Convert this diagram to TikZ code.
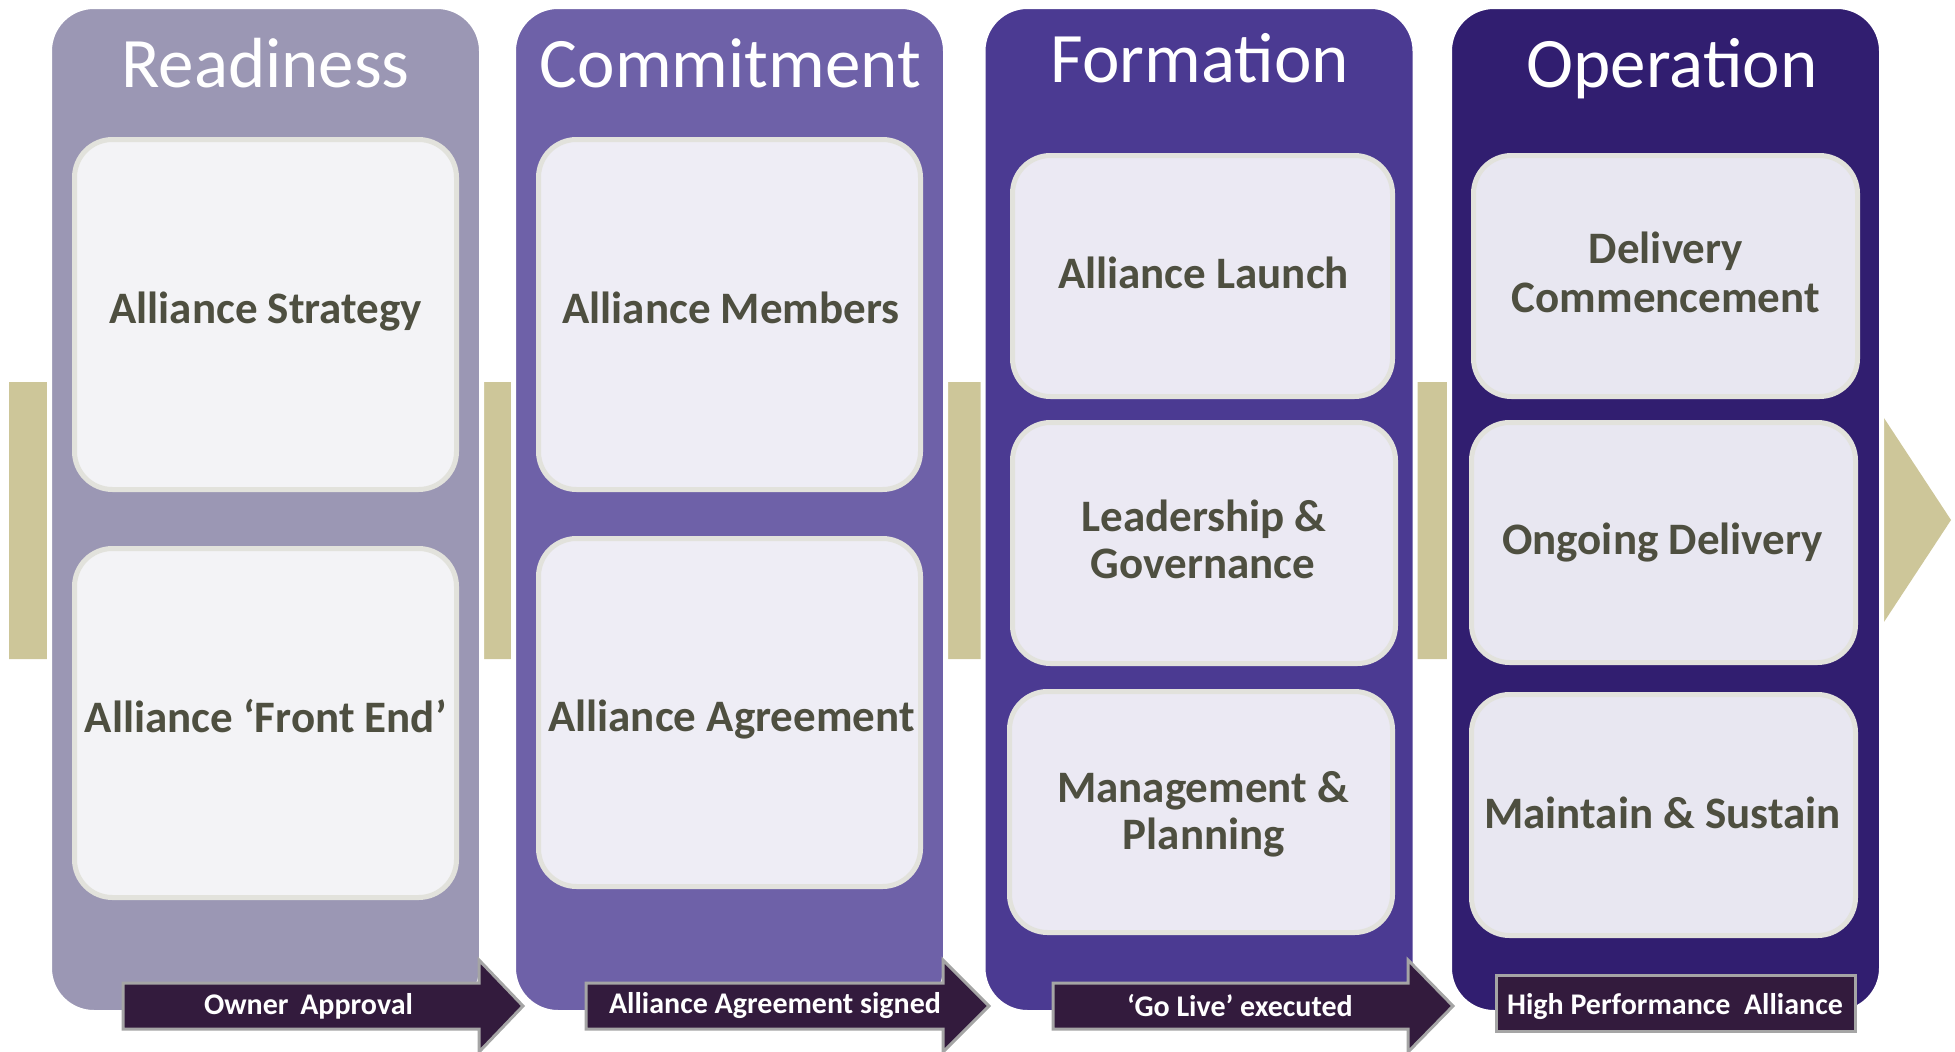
\documentclass[tikz,border=0pt]{standalone}
\usepackage{fontspec}
\setmainfont{Carlito}
\definecolor{colA}{HTML}{9B97B4}
\definecolor{colB}{HTML}{6E61A8}
\definecolor{colC}{HTML}{4B3A92}
\definecolor{colD}{HTML}{311E70}
\definecolor{tanband}{HTML}{CDC699}
\definecolor{cardA}{HTML}{F3F3F6}
\definecolor{cardB}{HTML}{EEEDF5}
\definecolor{cardC}{HTML}{EBE9F3}
\definecolor{cardD}{HTML}{E8E7F1}
\definecolor{cardline}{HTML}{E2E2DC}
\definecolor{cardtext}{HTML}{4E4F40}
\definecolor{flagfill}{HTML}{331B3D}
\definecolor{flagline}{HTML}{A5A5A5}
\begin{document}
\begin{tikzpicture}[x=1pt,y=-1pt,
  column/.style={rectangle, rounded corners=44.5pt, draw=white, line width=5pt, inner sep=0pt, outer sep=0pt, minimum width=432pt, minimum height=1006pt},
  card/.style={rectangle, rounded corners=38pt, draw=cardline, line width=5pt, inner sep=0pt, outer sep=0pt},
  cardlabel/.style={text=cardtext, font=\fontsize{45}{48}\selectfont\bfseries, anchor=base, inner sep=0pt},
  title/.style={text=white, font=\fontsize{71}{80}\selectfont, anchor=base, inner sep=0pt},
  flag/.style={fill=flagfill, draw=flagline, line width=3pt, line join=miter},
  flagtext/.style={text=white, font=\fontsize{30}{32}\selectfont\bfseries, inner sep=0pt}]
\useasboundingbox (0,0) rectangle (1955,1052);
% background band arrow
\fill[tanband] (9,382) -- (1836,382) -- (1836,345) -- (1951,520) -- (1836,695) -- (1836,659) -- (9,659) -- cycle;
% columns
\node[column, fill=colA] (colR) at (265.5,509.5) {};
\node[column, fill=colB] (colC) at (729.5,509.5) {};
\node[column, fill=colC] (colF) at (1199,509.5) {};
\node[column, fill=colD] (colO) at (1665.5,509.5) {};
% titles
\node[title] (tR) at (265.5,87) {Readiness};
\node[title] (tC) at (730.5,87) {Commitment};
\node[title] (tF) at (1200,82) {Formation};
\node[title] (tO) at (1672,87) {Operation};
% cards
\node[card, fill=cardA, minimum width=382pt, minimum height=350pt] (r1) at (265.5,314.5) {};
\node[card, fill=cardA, minimum width=382pt, minimum height=349pt] (r2) at (265.5,723) {};
\node[card, fill=cardB, minimum width=382pt, minimum height=350pt] (c1) at (729.5,314.5) {};
\node[card, fill=cardB, minimum width=382pt, minimum height=348pt] (c2) at (729.5,712.5) {};
\node[card, fill=cardC, minimum width=380pt, minimum height=241pt] (f1) at (1202.5,276) {};
\node[card, fill=cardC, minimum width=383pt, minimum height=241pt] (f2) at (1204,543) {};
\node[card, fill=cardC, minimum width=383pt, minimum height=241pt] (f3) at (1201,812) {};
\node[card, fill=cardD, minimum width=384pt, minimum height=241pt] (o1) at (1665.5,276) {};
\node[card, fill=cardD, minimum width=384pt, minimum height=240pt] (o2) at (1663.5,542.5) {};
\node[card, fill=cardD, minimum width=384pt, minimum height=241pt] (o3) at (1663.5,815) {};
% card labels
\node[cardlabel] (r1t) at (265.7,323) {Alliance Strategy};
\node[cardlabel] (r2t) at (265.7,732) {Alliance ‘Front End’};
\node[cardlabel] (c1t) at (731,323) {Alliance Members};
\node[cardlabel] (c2t) at (731.5,731) {Alliance Agreement};
\node[cardlabel] (f1t) at (1203.5,288) {Alliance Launch};
\node[cardlabel] (f2t) at (1204,531) {Leadership \&};
\node[cardlabel] (f2u) at (1203,578) {Governance};
\node[cardlabel] (f3t) at (1203,802) {Management \&};
\node[cardlabel] (f3u) at (1204,849) {Planning};
\node[cardlabel] (o1t) at (1666,263) {Delivery};
\node[cardlabel] (o1u) at (1666,312) {Commencement};
\node[cardlabel] (o2t) at (1662.5,554) {Ongoing Delivery};
\node[cardlabel] (o3t) at (1662.5,828) {Maintain \& Sustain};
% bottom milestone arrows
\draw[flag] (123,983) -- (479,983) -- (479,960) -- (523,1006) -- (479,1052) -- (479,1029) -- (123,1029) -- cycle;
\node[flagtext] (m1) at (308.5,1006) {Owner\, Approval};
\draw[flag] (586,983) -- (943,983) -- (943,960) -- (989,1006) -- (943,1052) -- (943,1029) -- (586,1029) -- cycle;
\node[flagtext] (m2) at (775,1006) {Alliance Agreement signed};
\draw[flag] (1053,983) -- (1408,983) -- (1408,960) -- (1453,1006) -- (1408,1052) -- (1408,1029) -- (1053,1029) -- cycle;
\node[flagtext] (m3) at (1240,1006) {‘Go Live’ executed};
\draw[flag] (1496,975) rectangle (1855,1031);
\node[flagtext] (m4) at (1675,1007) {High Performance\ \ Alliance};
\end{tikzpicture}
\end{document}
